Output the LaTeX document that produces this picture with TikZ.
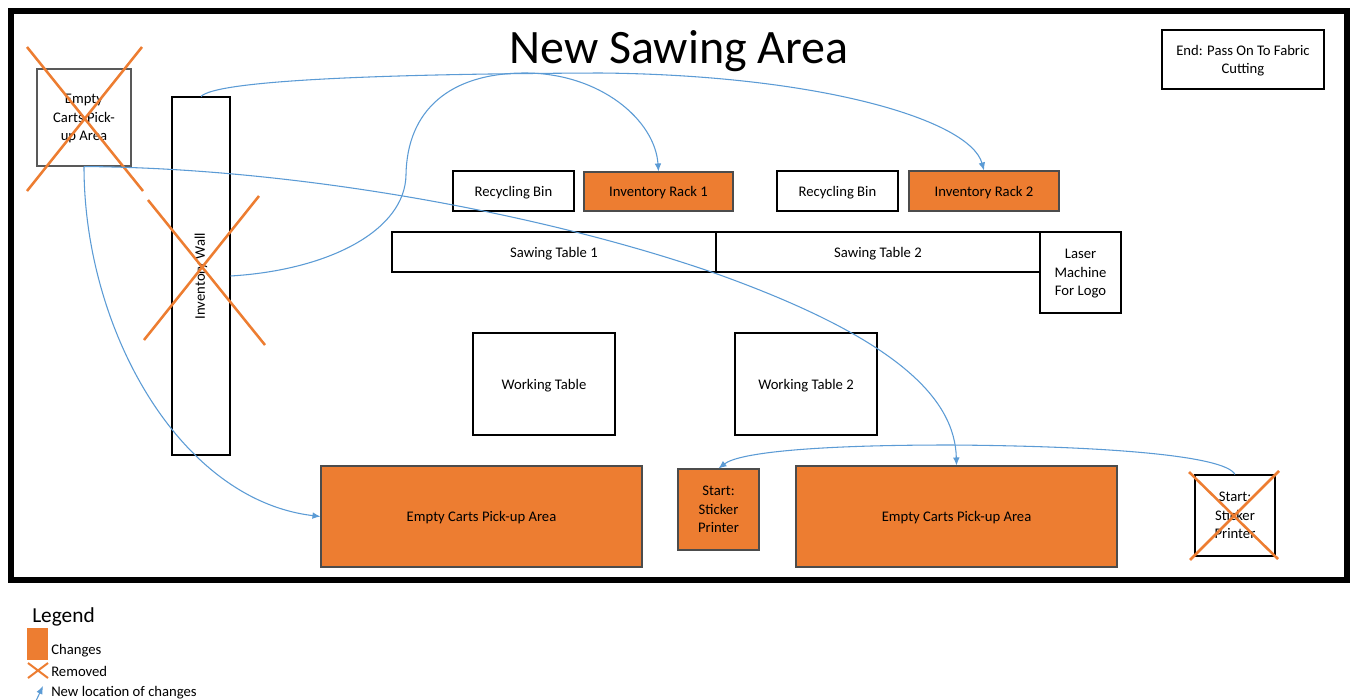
\documentclass[tikz,border=0pt]{standalone}
\usepackage{fontspec}
\setmainfont{Carlito}
\usetikzlibrary{arrows.meta}
\definecolor{chg}{HTML}{ED7D31}
\definecolor{flow}{HTML}{5B9BD5}
\tikzset{
  room/.style={draw=black, line width=0.8pt, inner sep=0pt, align=center,
               text depth=0pt, font=\fontsize{11}{13.8}\selectfont},
  oldroom/.style={room, draw=black!65},
  changed/.style={room, fill=chg, draw=black!70},
  sz/.style 2 args={minimum width=#1*0.75pt, minimum height=#2*0.75pt},
  cross/.style={draw=chg, line width=1.9pt},
  move/.style={draw=flow, line width=0.8pt, -{Latex[length=6pt,width=5pt]}},
  plain/.style={inner sep=0pt, font=\fontsize{11}{13.8}\selectfont, anchor=base west},
}
\begin{document}
\begin{tikzpicture}[x=0.75pt,y=-0.75pt]
\useasboundingbox (0,0) rectangle (1350,700);
\fill[white] (0,0) rectangle (1350,700);

% outer wall of the area
\draw[line width=4.5pt] (11,11) rectangle (1347,580);

\node[font=\fontsize{36}{42}\selectfont, anchor=base, inner sep=0pt] (title) at (679,63) {New Sawing Area};

% stations
\node[room, sz={162}{59}] (end) at (1243,59.5) {End: Pass On To Fabric\\Cutting};
\node[oldroom, sz={94}{97}] (oldcarts) at (84,117.5) {Empty\\Carts Pick-\\up Area};
\node[room, sz={58}{358}] (wall) at (201,276) {};
\node[rotate=90, inner sep=0pt, font=\fontsize{11}{13.8}\selectfont] (walltext) at (wall.center) {Inventory Wall};

\node[room, sz={121}{40}] (bin1) at (513.5,191) {Recycling Bin};
\node[changed, sz={149}{39}] (rack1) at (658.5,191.5) {Inventory Rack 1};
\node[room, sz={121}{40}] (bin2) at (837.5,191) {Recycling Bin};
\node[changed, sz={150}{40}] (rack2) at (984,191) {Inventory Rack 2};

\node[room, sz={324}{40}] (saw1) at (554,252) {Sawing Table 1};
\node[room, sz={324}{40}] (saw2) at (878,252) {Sawing Table 2};
\node[room, sz={81}{81}] (laser) at (1080.5,272.5) {Laser\\Machine\\For Logo};

\node[room, sz={142}{102}] (work1) at (544,384) {Working Table};
\node[room, sz={142}{102}] (work2) at (806,384) {Working Table 2};

\node[changed, sz={321}{101}] (carts1) at (481.5,516.5) {Empty Carts Pick-up Area};
\node[changed, sz={81}{81}] (sticker) at (718.5,509.5) {Start:\\Sticker\\Printer};
\node[changed, sz={321}{101}] (carts2) at (956.5,516.5) {Empty Carts Pick-up Area};
\node[room, sz={80}{81}] (oldsticker) at (1235,515.5) {Start:\\Sticker\\Printer};

% removed items
\draw[cross] (27,47) -- (143,191) (142,47) -- (27,191);
\draw[cross] (148,200) -- (265,345) (259,196) -- (144,340);
\draw[cross] (1189,472) -- (1278,559) (1279,471) -- (1190,560);

% moves
\draw[move] (wall.north) .. controls (215,82) and (350,74) .. (600,73)
            .. controls (820,75) and (970,120) .. (rack2.north);
\draw[move] (wall.east) .. controls (330,270) and (405,230) .. (406,175)
            .. controls (407,110) and (450,73) .. (525,73)
            .. controls (600,73) and (655,120) .. (rack1.north);
\draw[move] (oldcarts.south) .. controls (300,168) and (550,215) .. (720,275)
            .. controls (900,340) and (955,400) .. (carts2.north);
\draw[move] (oldcarts.south) .. controls (84,330) and (180,500) .. (carts1.west);
\draw[move] (oldsticker.north) .. controls (1225,455) and (1100,446) .. (950,445)
            .. controls (820,445) and (740,452) .. (sticker.north);

% legend
\node[inner sep=0pt, anchor=base west, font=\fontsize{16}{19}\selectfont] (legend) at (32,622) {Legend};
\node[fill=chg, inner sep=0pt, sz={21}{32}] (keychg) at (37.5,644) {};
\node[plain] (keychgtext) at (51,654) {Changes};
\draw[cross, line width=1.5pt] (28,663) -- (48,678) (48,663) -- (28,678);
\node[plain] (keyremtext) at (51,676) {Removed};
\coordinate (keyfrom) at (35,703);
\coordinate (keyto) at (43,686);
\draw[move] (keyfrom) -- (keyto);
\node[plain] (keymovetext) at (51,696) {New location of changes};
\end{tikzpicture}
\end{document}
